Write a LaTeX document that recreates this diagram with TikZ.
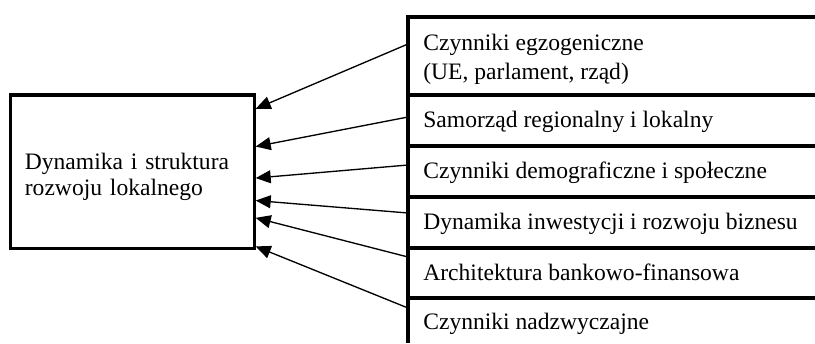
\documentclass[tikz,border=0pt]{standalone}
\usepackage{fontspec}
\setmainfont{Liberation Serif}
\usetikzlibrary{calc,arrows.meta,positioning}

\begin{document}
\begin{tikzpicture}[x=0.0185cm, y=-0.0185cm,
    frame/.style={line width=1.6pt},
    mainbox/.style={draw, line width=1.6pt, minimum width=4.5cm, minimum height=2.83cm,
      text width=3.98cm, inner xsep=0.26cm, inner ysep=0pt, text height=1cm, text depth=1cm+2.6pt,
      align=left, font=\fontsize{12.4}{13.7}\selectfont},
    factor/.style={anchor=base west, inner sep=0pt, align=left, font=\fontsize{12.4}{15.2}\selectfont},
    influence/.style={line width=0.7pt, -{Triangle[length=7.9pt, width=6.8pt]}}]
    \useasboundingbox (0,0) rectangle (815,343);
    \node [mainbox] (main) at (132.5,171.5) {Dynamika i struktura\\rozwoju lokalnego};
    \draw [frame] (408,343) -- (408,17) -- (815,17);
    \draw [frame] (408,95) -- (815,95);
    \draw [frame] (408,146) -- (815,146);
    \draw [frame] (408,197) -- (815,197);
    \draw [frame] (408,248) -- (815,248);
    \draw [frame] (408,298) -- (815,298);
    \node [factor] (egzo) at (423,79) {Czynniki egzogeniczne\\(UE, parlament, rząd)};
    \node [factor] (samorzad) at (423,127) {Samorząd regionalny i lokalny};
    \node [factor] (demo) at (423,178) {Czynniki demograficzne i społeczne};
    \node [factor] (inwest) at (423,229) {Dynamika inwestycji i rozwoju biznesu};
    \node [factor] (bank) at (423,280) {Architektura bankowo-finansowa};
    \node [factor] (nadzw) at (423,329) {Czynniki nadzwyczajne};
    \coordinate (s1) at (408,44);
    \coordinate (s2) at (408,117);
    \coordinate (s3) at (408,165);
    \coordinate (s4) at (408,213);
    \coordinate (s5) at (408,257);
    \coordinate (s6) at (408,308);
    \draw [influence] (s1) -- ($(main.north east)!0.098!(main.south east)$);
    \draw [influence] (s2) -- ($(main.north east)!0.34!(main.south east)$);
    \draw [influence] (s3) -- ($(main.north east)!0.542!(main.south east)$);
    \draw [influence] (s4) -- ($(main.north east)!0.686!(main.south east)$);
    \draw [influence] (s5) -- ($(main.north east)!0.797!(main.south east)$);
    \draw [influence] (s6) -- ($(main.north east)!0.98!(main.south east)$);
\end{tikzpicture}
\end{document}
